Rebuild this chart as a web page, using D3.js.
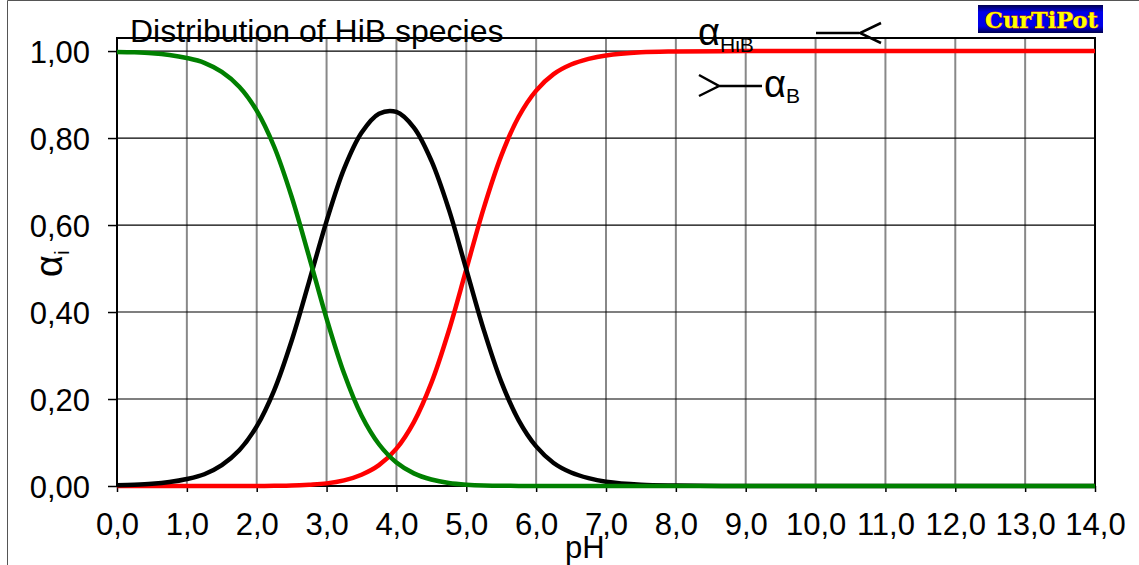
<!DOCTYPE html>
<html>
<head>
<meta charset="utf-8">
<script src="https://cdn.jsdelivr.net/npm/d3@7"></script>
<style>
  body { margin: 0; background: #fff; }
  text { font-family: "Liberation Sans", Arial, sans-serif; fill: #000; }
  .axis path { display: none; }
  .axis line { stroke: #000; stroke-width: 1.5; }
</style>
</head>
<body>
<div class="chart"></div>
<script>
// Data

const pH = [0, 0.25, 0.5, 0.75, 1, 1.25, 1.5, 1.75, 2, 2.25, 2.5, 2.75, 3, 3.25, 3.5, 3.75, 4,
  4.25, 4.5, 4.75, 5, 5.25, 5.5, 5.75, 6, 6.25, 6.5, 6.75, 7, 7.5, 8, 9, 10, 11, 12, 13, 14];

const alphaH2B = [0.998, 0.997, 0.995, 0.991, 0.984, 0.973, 0.952, 0.918, 0.863, 0.78, 0.665, 0.527, 0.385,
  0.259, 0.162, 0.096, 0.054, 0.029, 0.015, 0.007, 0.003, 0.001, 0.0005, 0.0002, 0, 0, 0, 0, 0, 0, 0, 0,
  0, 0, 0, 0, 0];

const alphaHiB = [0.002, 0.003, 0.005, 0.009, 0.016, 0.027, 0.048, 0.082, 0.137, 0.22, 0.334, 0.47, 0.609,
  0.729, 0.812, 0.856, 0.86, 0.824, 0.748, 0.636, 0.498, 0.359, 0.24, 0.151, 0.091, 0.053, 0.031, 0.018,
  0.01, 0.003, 0.001, 0, 0, 0, 0, 0, 0];

const alphaB = [0, 0, 0, 0, 0, 0, 0, 0, 0.0001, 0.0004, 0.001, 0.003, 0.006, 0.013, 0.026, 0.048, 0.086,
  0.147, 0.237, 0.357, 0.498, 0.639, 0.759, 0.849, 0.909, 0.947, 0.969, 0.982, 0.99, 0.997, 0.999, 1,
  1, 1, 1, 1, 1];

const xTicks = [0, 1, 2, 3, 4, 5, 6, 7, 8, 9, 10, 11, 12, 13, 14];
const xTickLabels = ["0,0", "1,0", "2,0", "3,0", "4,0", "5,0", "6,0", "7,0", "8,0", "9,0", "10,0",
  "11,0", "12,0", "13,0", "14,0"];
const yTicks = [0, 0.2, 0.4, 0.6, 0.8, 1.0];
const yTickLabels = ["0,00", "0,20", "0,40", "0,60", "0,80", "1,00"];

// Define measurements

const width = 1139;
const height = 565;
const plot = { left: 117, right: 1095, top: 38, bottom: 486 };

const svg = d3
  .select(".chart")
  .append("svg")
  .attr("width", width)
  .attr("height", height);

// Outer chart border (only top and left edges show)

svg.append("path")
  .attr("d", `M7.5,${height} V0.5 H${width}`)
  .attr("fill", "none")
  .attr("stroke", "#555")
  .attr("stroke-width", 1);

// Add scales

const xScale = d3.scaleLinear().domain([0, 14]).range([plot.left, plot.right]);
const yScale = d3.scaleLinear().domain([0, 1.03]).range([plot.bottom, plot.top]);

// Gridlines

svg.append("g")
  .selectAll("line")
  .data(xTicks.slice(1, -1))
  .enter()
  .append("line")
  .attr("x1", (d) => xScale(d))
  .attr("x2", (d) => xScale(d))
  .attr("y1", plot.top)
  .attr("y2", plot.bottom)
  .attr("stroke", "#888")
  .attr("stroke-width", 2);

svg.append("g")
  .selectAll("line")
  .data(yTicks.slice(1))
  .enter()
  .append("line")
  .attr("x1", plot.left)
  .attr("x2", plot.right)
  .attr("y1", (d) => yScale(d))
  .attr("y2", (d) => yScale(d))
  .attr("stroke", "#000")
  .attr("stroke-width", 1.2);

// Plot frame

svg.append("rect")
  .attr("x", plot.left)
  .attr("y", plot.top)
  .attr("width", plot.right - plot.left)
  .attr("height", plot.bottom - plot.top)
  .attr("fill", "none")
  .attr("stroke", "#000")
  .attr("stroke-width", 2);

// Add axes

svg.append("g")
  .attr("class", "axis")
  .attr("transform", `translate(0, ${plot.bottom})`)
  .call(d3.axisBottom(xScale).tickValues(xTicks).tickSize(6).tickPadding(21)
    .tickFormat((d, i) => xTickLabels[i]))
  .selectAll("text")
  .style("font-size", "31px");

svg.append("g")
  .attr("class", "axis")
  .attr("transform", `translate(${plot.left}, 0)`)
  .call(d3.axisLeft(yScale).tickValues(yTicks).tickSize(9).tickPadding(18)
    .tickFormat((d, i) => yTickLabels[i]))
  .selectAll("text")
  .style("font-size", "31px")
  .attr("dy", "0.38em");

// Add curves

const line = (values) =>
  d3.line()
    .x((d, i) => xScale(pH[i]))
    .y((d) => yScale(d))
    .curve(d3.curveCatmullRom.alpha(0.5))(values);

const series = [
  { values: alphaB, color: "#ff0000" },
  { values: alphaHiB, color: "#000000" },
  { values: alphaH2B, color: "#008000" },
];

svg.append("g")
  .selectAll("path")
  .data(series)
  .enter()
  .append("path")
  .attr("d", (d) => line(d.values))
  .attr("fill", "none")
  .attr("stroke", (d) => d.color)
  .attr("stroke-width", 4.5)
  .attr("stroke-linejoin", "round");

// Titles

svg.append("text")
  .attr("x", 130)
  .attr("y", 42)
  .style("font-size", "32px")
  .text("Distribution of HiB species");

svg.append("text")
  .attr("x", 565)
  .attr("y", 558)
  .style("font-size", "31px")
  .text("pH");

const yTitle = svg.append("text")
  .attr("transform", "translate(62, 277) rotate(-90)")
  .style("font-size", "38px");
yTitle.append("tspan").text("α");
yTitle.append("tspan").attr("dy", 7).style("font-size", "21px").text("i");

// Legend

const leg1 = svg.append("text").attr("x", 698).attr("y", 45).style("font-size", "38px");
leg1.append("tspan").text("α");
leg1.append("tspan").attr("dy", 7).style("font-size", "21px").text("HiB");

svg.append("path")
  .attr("d", "M816,33 H859 M881,23 L860,33 L881,43")
  .attr("fill", "none")
  .attr("stroke", "#000")
  .attr("stroke-width", 2.5);

svg.append("path")
  .attr("d", "M699,75 L719,86 L699,96 M719,86 H762")
  .attr("fill", "none")
  .attr("stroke", "#000")
  .attr("stroke-width", 2.5);

const leg2 = svg.append("text").attr("x", 764).attr("y", 97).style("font-size", "38px");
leg2.append("tspan").text("α");
leg2.append("tspan").attr("dy", 6).style("font-size", "21px").text("B");

// CurTiPot badge

const defs = svg.append("defs");
const grad = defs.append("linearGradient").attr("id", "badge").attr("x1", 0).attr("x2", 0).attr("y1", 0).attr("y2", 1);
grad.append("stop").attr("offset", "0%").attr("stop-color", "#00004a");
grad.append("stop").attr("offset", "25%").attr("stop-color", "#0000e8");
grad.append("stop").attr("offset", "75%").attr("stop-color", "#0000e8");
grad.append("stop").attr("offset", "100%").attr("stop-color", "#00004a");

svg.append("rect")
  .attr("x", 978)
  .attr("y", 5)
  .attr("width", 125)
  .attr("height", 28)
  .attr("fill", "url(#badge)");

svg.append("text")
  .attr("x", 985)
  .attr("y", 28)
  .attr("textLength", 113)
  .attr("lengthAdjust", "spacingAndGlyphs")
  .style("font-family", "'DejaVu Serif', serif")
  .style("font-weight", "bold")
  .style("font-size", "22px")
  .style("fill", "#ffff00")
  .style("stroke", "#d04000")
  .style("stroke-width", 0.8)
  .style("paint-order", "stroke")
  .text("CurTiPot");
</script>
</body>
</html>
